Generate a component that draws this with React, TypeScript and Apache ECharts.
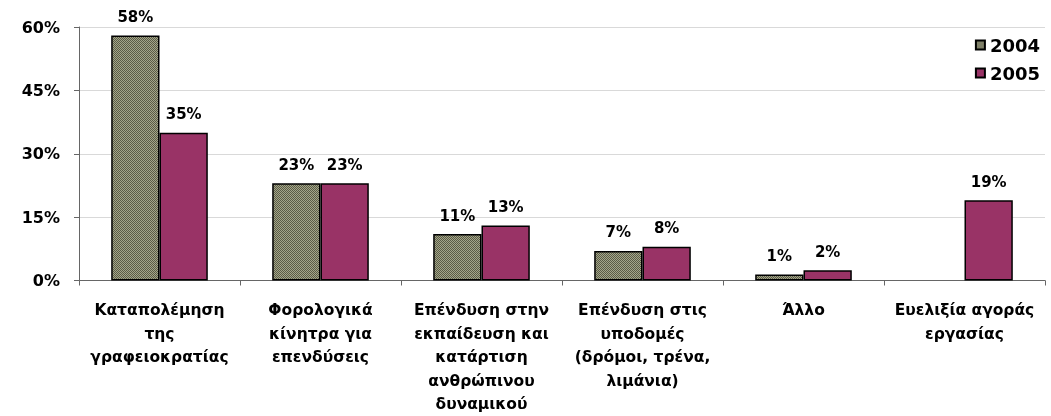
import React, { useEffect, useRef } from "react";
import * as echarts from "echarts";

const categories = [
  "Καταπολέμηση\nτης\nγραφειοκρατίας",
  "Φορολογικά\nκίνητρα για\nεπενδύσεις",
  "Επένδυση στην\nεκπαίδευση και\nκατάρτιση\nανθρώπινου\nδυναμικού",
  "Επένδυση στις\nυποδομές\n(δρόμοι, τρένα,\nλιμάνια)",
  "Άλλο",
  "Ευελιξία αγοράς\nεργασίας",
];
const values2004: (number | null)[] = [58, 23, 11, 7, 1.4, null];
const values2005: (number | null)[] = [35, 23, 13, 8, 2.4, 19];
const seriesNames = ["2004", "2005"];

const FONT = "DejaVu Sans";

function makePattern(): HTMLCanvasElement {
  const c = document.createElement("canvas");
  c.width = 2;
  c.height = 2;
  const ctx = c.getContext("2d")!;
  ctx.fillStyle = "#a4a68a";
  ctx.fillRect(0, 0, 2, 2);
  ctx.fillStyle = "#5a5b46";
  ctx.fillRect(0, 0, 1, 1);
  ctx.fillRect(1, 1, 1, 1);
  return c;
}

export default function App() {
  const ref = useRef<HTMLDivElement>(null);
  useEffect(() => {
    if (!ref.current) return;
    const chart = echarts.init(ref.current, null, { renderer: "svg" });
    const pattern = makePattern();
    const label = {
      show: true,
      position: "top" as const,
      distance: 11,
      fontFamily: FONT,
      fontWeight: "bold" as const,
      fontSize: 15,
      color: "#000",
      formatter: (p: any) => Math.round(p.value) + "%",
    };
    chart.setOption({
      animation: false,
      grid: { left: 79, right: 6, top: 27, bottom: 134, containLabel: false },
      legend: {
        orient: "vertical",
        right: 6,
        top: 31,
        itemWidth: 9,
        itemHeight: 9,
        itemGap: 10,
        icon: "rect",
        textStyle: {
          fontFamily: FONT,
          fontWeight: "bold",
          fontSize: 18,
          lineHeight: 18,
          color: "#000",
        },
        data: seriesNames,
      },
      xAxis: {
        type: "category",
        data: categories,
        axisLine: { lineStyle: { color: "#666", width: 1 } },
        axisTick: { show: true, length: 5, lineStyle: { color: "#666" } },
        axisLabel: {
          interval: 0,
          margin: 18,
          fontFamily: FONT,
          fontWeight: "bold",
          fontSize: 15.5,
          lineHeight: 23.5,
          color: "#000",
          align: "center",
        },
      },
      yAxis: {
        type: "value",
        min: 0,
        max: 60,
        interval: 15,
        axisLine: { show: true, lineStyle: { color: "#666", width: 1 } },
        axisTick: { show: true, length: 5, lineStyle: { color: "#666" } },
        splitLine: { lineStyle: { color: "#d9d9d9", width: 1 } },
        axisLabel: {
          margin: 19,
          fontFamily: FONT,
          fontWeight: "bold",
          fontSize: 16,
          color: "#000",
          formatter: "{value}%",
        },
      },
      series: [
        {
          name: seriesNames[0],
          type: "bar",
          data: values2004,
          barGap: "0%",
          barCategoryGap: "40%",
          itemStyle: {
            color: { image: pattern, repeat: "repeat" },
            borderColor: "#000",
            borderWidth: 1.5,
          },
          label,
        },
        {
          name: seriesNames[1],
          type: "bar",
          data: values2005,
          barGap: "0%",
          barCategoryGap: "40%",
          itemStyle: { color: "#993366", borderColor: "#000", borderWidth: 1.5 },
          label,
        },
      ],
    });
    return () => chart.dispose();
  }, []);
  return (
    <div
      ref={ref}
      style={{ position: "fixed", left: 0, top: 0, width: 1051, height: 416 }}
    />
  );
}
